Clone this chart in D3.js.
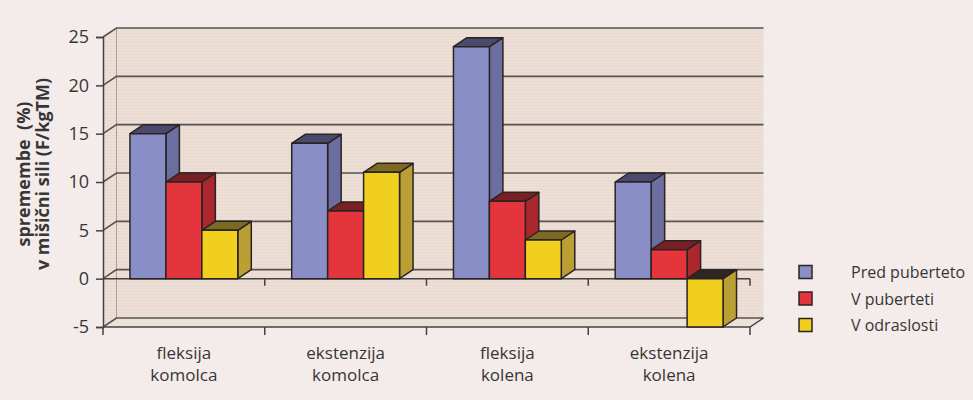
<!DOCTYPE html>
<html>
<head>
<meta charset="utf-8">
<script src="https://cdn.jsdelivr.net/npm/d3@7"></script>
<style>
  html, body { margin: 0; padding: 0; background: #f3ecea; }
  svg { display: block; }
  text { font-family: "Open Sans", "Noto Sans", sans-serif; fill: #383535; }
</style>
</head>
<body>
<svg id="chart" width="973" height="400"></svg>
<script>
// Categories (two-line labels) and the three age groups
const categories = ["fleksija komolca", "ekstenzija komolca", "fleksija kolena", "ekstenzija kolena"];
const categoryLines = [["fleksija", "komolca"], ["ekstenzija", "komolca"], ["fleksija", "kolena"], ["ekstenzija", "kolena"]];
const seriesNames = ["Pred puberteto", "V puberteti", "V odraslosti"];

// Change in muscle strength (%) per category, one array per group
const predPuberteto = [15, 14, 24, 10];
const vPuberteti = [10, 7, 8, 3];
const vOdraslosti = [5, 11, 4, -5];
const seriesValues = [predPuberteto, vPuberteti, vOdraslosti];

const yTicks = [-5, 0, 5, 10, 15, 20, 25];
const yTitleLines = ["spremembe  (%)", "v mišični sili (F/kgTM)"];

// Face colours for each series: front, side, top
const faceColors = [
  { front: "#8a8ec6", side: "#6b6e9f", top: "#4b4a6c" },
  { front: "#e5353c", side: "#a9272d", top: "#782024" },
  { front: "#f1cf1f", side: "#baa034", top: "#7c6a22" }
];
const negTopColor = "#2e2622";

const svg = d3.select("#chart");
svg.append("rect").attr("width", 973).attr("height", 400).attr("fill", "#f3ecea");

// Front plane of the 3D plot and depth offset of the back wall
const x0 = 103, x1 = 750;
const dx = 13.5, dy = -9;

const y = d3.scaleLinear().domain([-5, 25]).range([327, 37]);
const xCat = d3.scaleBand().domain(categories).range([x0, x1]).paddingInner(0).paddingOuter(0);
const xSer = d3.scaleBand().domain(seriesNames).range([0, xCat.bandwidth()]).paddingInner(0).paddingOuter(0.75);

const line = d3.line();
const poly = pts => line(pts) + "Z";

// Subtle printed texture for the walls
const defs = svg.append("defs");
const pat = defs.append("pattern").attr("id", "wallTex").attr("patternUnits", "userSpaceOnUse")
  .attr("width", 3).attr("height", 3);
pat.append("rect").attr("width", 3).attr("height", 3).attr("fill", "#eee0d6");
pat.append("rect").attr("width", 3).attr("height", 1).attr("fill", "#e6d6cc").attr("opacity", 0.6);
pat.append("rect").attr("width", 1).attr("height", 3).attr("fill", "#e8d9cf").attr("opacity", 0.5);

const yMax = y(25), yMin = y(-5);
const walls = svg.append("g");
// side wall
walls.append("path").attr("d", poly([[x0, yMax], [x0 + dx, yMax + dy], [x0 + dx, yMin + dy], [x0, yMin]]))
  .attr("fill", "url(#wallTex)");
// back wall
walls.append("path").attr("d", poly([[x0 + dx, yMax + dy], [x1 + dx, yMax + dy], [x1 + dx, yMin + dy], [x0 + dx, yMin + dy]]))
  .attr("fill", "url(#wallTex)");
// floor
walls.append("path").attr("d", poly([[x0, yMin], [x1, yMin], [x1 + dx, yMin + dy], [x0 + dx, yMin + dy]]))
  .attr("fill", "#ebe2da");
// back wall left edge
walls.append("line").attr("x1", x0 + dx).attr("x2", x0 + dx).attr("y1", yMax + dy).attr("y2", yMin + dy)
  .attr("stroke", "#9a908c").attr("stroke-width", 0.8);

// Gridlines on the back and side walls
const grid = svg.append("g").attr("stroke", "#575353").attr("stroke-width", 1.6).attr("fill", "none");
yTicks.forEach(t => {
  const yy = y(t);
  grid.append("path").attr("d", line([[x0, yy], [x0 + dx, yy + dy], [x1 + dx, yy + dy]]));
});

// Floor front edge and right diagonal
const axisG = svg.append("g").attr("stroke", "#454141").attr("stroke-width", 1.5).attr("fill", "none");
axisG.append("path").attr("d", line([[x0, yMin], [x1, yMin], [x1 + dx, yMin + dy]]));
// Category axis at zero
axisG.append("path").attr("d", line([[x0, y(0)], [x1, y(0)]]));
// category ticks
d3.range(1, categories.length + 1).forEach(i => {
  const xx = x0 + i * xCat.step();
  axisG.append("line").attr("x1", xx).attr("x2", xx).attr("y1", y(0)).attr("y2", y(0) + 7);
});
d3.range(0, categories.length + 1).forEach(i => {
  const xx = x0 + i * xCat.step();
  axisG.append("line").attr("x1", xx).attr("x2", xx).attr("y1", yMin).attr("y2", yMin + 8);
});

// Value axis on the front-left edge (plain hyphen for negatives)
const yAxis = d3.axisLeft(y).tickValues(yTicks).tickSize(7).tickPadding(7).tickFormat(d => String(d));
const yAxisG = svg.append("g").attr("transform", `translate(${x0},0)`).call(yAxis);
yAxisG.select(".domain").attr("stroke", "#454141").attr("stroke-width", 1.5);
yAxisG.selectAll(".tick line").attr("stroke", "#454141").attr("stroke-width", 1.5);
yAxisG.selectAll(".tick text").attr("font-size", 18).attr("fill", "#3a3737")
  .style("font-family", '"Open Sans", sans-serif');

// 3D bars, drawn left to right so each front face covers its neighbour's side
const bars = svg.append("g").attr("stroke", "#2a2323").attr("stroke-width", 1.5).attr("stroke-linejoin", "round");
categories.forEach((c, ci) => {
  seriesNames.forEach((s, si) => {
    const v = seriesValues[si][ci];
    const xl = xCat(c) + xSer(s), w = xSer.bandwidth(), xr = xl + w;
    const yt = y(Math.max(v, 0)), yb = y(Math.min(v, 0));
    const col = faceColors[si];
    const g = bars.append("g");
    g.append("path").attr("d", poly([[xr, yt], [xr + dx, yt + dy], [xr + dx, yb + dy], [xr, yb]])).attr("fill", col.side);
    g.append("path").attr("d", poly([[xl, yt], [xr, yt], [xr + dx, yt + dy], [xl + dx, yt + dy]]))
      .attr("fill", v < 0 ? negTopColor : col.top);
    g.append("path").attr("d", poly([[xl, yt], [xr, yt], [xr, yb], [xl, yb]])).attr("fill", col.front);
  });
});

// Category labels
categories.forEach((c, ci) => {
  const t = svg.append("text").attr("text-anchor", "middle").attr("font-size", 17)
    .attr("x", xCat(c) + xCat.bandwidth() / 2).attr("y", 359);
  categoryLines[ci].forEach((ln, li) => {
    t.append("tspan").attr("x", xCat(c) + xCat.bandwidth() / 2).attr("dy", li === 0 ? 0 : 22).text(ln);
  });
});

// Value axis title
const title = svg.append("text").attr("transform", "translate(0,174) rotate(-90)")
  .attr("text-anchor", "middle").attr("font-size", 18).attr("font-weight", "bold");
yTitleLines.forEach((ln, li) => {
  title.append("tspan").attr("x", 0).attr("y", li === 0 ? 30 : 49).style("white-space", "pre").text(ln);
});

// Legend
const legend = svg.append("g").attr("transform", "translate(799,0)");
seriesNames.forEach((s, si) => {
  const cy = 272 + si * 26.5;
  legend.append("rect").attr("x", 0).attr("y", cy - 6.5).attr("width", 13).attr("height", 13)
    .attr("fill", faceColors[si].front).attr("stroke", "#2a2323").attr("stroke-width", 1.5);
  legend.append("text").attr("x", 52).attr("y", cy + 6).attr("font-size", 16).text(s);
});
</script>
</body>
</html>
